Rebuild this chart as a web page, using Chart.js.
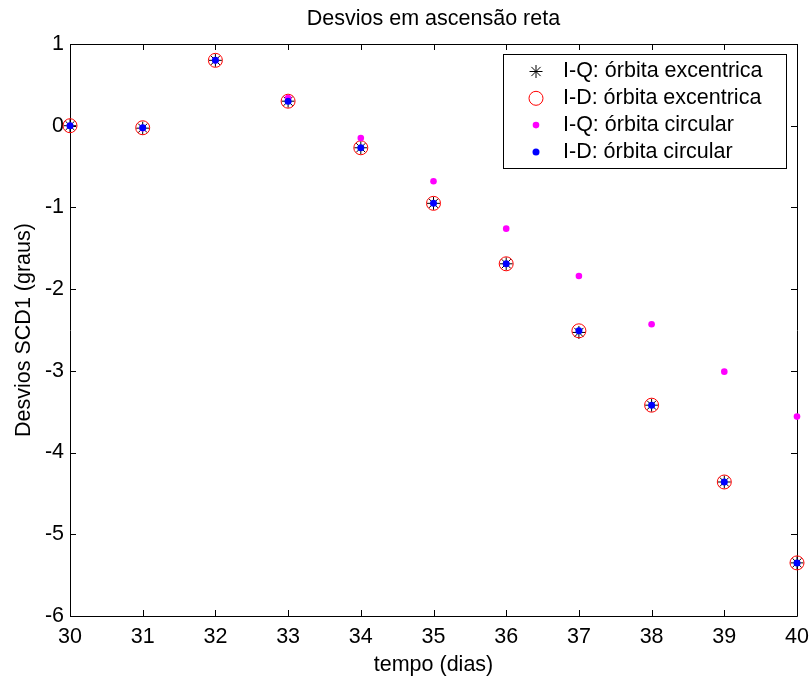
<!DOCTYPE html>
<html>
<head>
<meta charset="utf-8">
<title>Desvios em ascensão reta</title>
<script src="https://cdn.jsdelivr.net/npm/chart.js@4/dist/chart.umd.min.js"></script>
<style>
  html, body { margin: 0; padding: 0; background: #fff; }
  #grafico { display: block; }
</style>
</head>
<body>
<canvas id="grafico" width="811" height="679"></canvas>
<script>
// dias de simulação
const dias = [30, 31, 32, 33, 34, 35, 36, 37, 38, 39, 40];

// desvios SCD1 (graus) por método / órbita
const iqExcentrica = [0, -0.03, 0.8, 0.3, -0.27, -0.95, -1.69, -2.53, -3.42, -4.36, -5.35];
const idExcentrica = [0, -0.025, 0.8, 0.3, -0.27, -0.95, -1.69, -2.51, -3.42, -4.36, -5.35];
const iqCircular = [0, -0.03, 0.8, 0.34, -0.15, -0.68, -1.26, -1.84, -2.43, -3.01, -3.56];
const idCircular = [0, -0.025, 0.8, 0.3, -0.27, -0.95, -1.69, -2.51, -3.42, -4.36, -5.35];

const rotulos = [
  "I-Q: órbita excentrica",
  "I-D: órbita excentrica",
  "I-Q: órbita circular",
  "I-D: órbita circular",
];

const FONTE = "'Liberation Sans', Arial, Helvetica, sans-serif";
const TAM = 21.5;

const pontos = (ys) => dias.map((d, i) => ({ x: d, y: ys[i] }));

// caixa dos eixos + marcas de escala para dentro (estilo MATLAB)
const caixaEixos = {
  id: "caixaEixos",
  beforeDatasetsDraw(chart) {
    const { ctx, chartArea: a, scales } = chart;
    const tl = 6;
    ctx.save();
    ctx.strokeStyle = "#000";
    ctx.lineWidth = 1;
    ctx.beginPath();
    ctx.rect(a.left + 0.5, a.top + 0.5, a.right - a.left, a.bottom - a.top);
    scales.x.ticks.forEach((t) => {
      const px = Math.round(scales.x.getPixelForValue(t.value)) + 0.5;
      ctx.moveTo(px, a.bottom);
      ctx.lineTo(px, a.bottom - tl);
      ctx.moveTo(px, a.top);
      ctx.lineTo(px, a.top + tl);
    });
    scales.y.ticks.forEach((t) => {
      const py = Math.round(scales.y.getPixelForValue(t.value)) + 0.5;
      ctx.moveTo(a.left, py);
      ctx.lineTo(a.left + tl, py);
      ctx.moveTo(a.right, py);
      ctx.lineTo(a.right - tl, py);
    });
    ctx.stroke();
    ctx.restore();
  },
};

// legenda dentro do gráfico, canto superior direito
const legendaCaixa = {
  id: "legendaCaixa",
  afterDatasetsDraw(chart) {
    const { ctx } = chart;
    const x0 = 503, y0 = 54, w = 283, h = 114;
    ctx.save();
    ctx.fillStyle = "#fff";
    ctx.fillRect(x0, y0, w, h);
    ctx.strokeStyle = "#000";
    ctx.lineWidth = 1;
    ctx.strokeRect(x0 + 0.5, y0 + 0.5, w, h);
    ctx.font = TAM + "px " + FONTE;
    ctx.textBaseline = "middle";
    ctx.textAlign = "left";
    chart.data.datasets.forEach((ds, i) => {
      const cy = y0 + 17.5 + i * 26.8;
      const opts = {
        pointStyle: ds.pointStyle,
        radius: ds.pointRadius,
        borderWidth: ds.pointBorderWidth,
        rotation: 0,
      };
      ctx.strokeStyle = ds.pointBorderColor;
      ctx.fillStyle = ds.pointBackgroundColor;
      ctx.lineWidth = ds.pointBorderWidth;
      Chart.helpers.drawPoint(ctx, opts, 536, cy);
      ctx.fillStyle = "#000";
      ctx.fillText(ds.label, 563, cy);
    });
    ctx.restore();
  },
};

const eixoTick = { size: TAM, family: FONTE };

new Chart(document.getElementById("grafico"), {
  type: "scatter",
  data: {
    datasets: [
      {
        label: rotulos[0],
        data: pontos(iqExcentrica),
        pointStyle: "star",
        pointRadius: 6.5,
        pointBorderWidth: 1,
        pointBorderColor: "#000",
        pointBackgroundColor: "#000",
        order: 4,
      },
      {
        label: rotulos[1],
        data: pontos(idExcentrica),
        pointStyle: "circle",
        pointRadius: 7,
        pointBorderWidth: 1,
        pointBorderColor: "#ff0000",
        pointBackgroundColor: "rgba(0,0,0,0)",
        order: 3,
      },
      {
        label: rotulos[2],
        data: pontos(iqCircular),
        pointStyle: "circle",
        pointRadius: 3.3,
        pointBorderWidth: 0,
        pointBorderColor: "#ff00ff",
        pointBackgroundColor: "#ff00ff",
        order: 2,
      },
      {
        label: rotulos[3],
        data: pontos(idCircular),
        pointStyle: "circle",
        pointRadius: 3.5,
        pointBorderWidth: 0,
        pointBorderColor: "#0000ff",
        pointBackgroundColor: "#0000ff",
        order: 1,
      },
    ],
  },
  options: {
    responsive: false,
    animation: false,
    clip: false,
    layout: { padding: 0 },
    plugins: {
      legend: { display: false },
      tooltip: { enabled: false },
      title: { display: false },
    },
    scales: {
      x: {
        type: "linear",
        position: "bottom",
        min: 30,
        max: 40,
        grid: { display: false, drawTicks: false },
        border: { display: false },
        ticks: { stepSize: 1, color: "#000", font: eixoTick, padding: 8 },
        title: {
          display: true,
          text: "tempo (dias)",
          color: "#000",
          font: eixoTick,
          padding: { top: 0, bottom: 1 },
        },
        afterFit: (s) => {
          s.height = 63;
          s.paddingLeft = 0;
          s.paddingRight = 0;
        },
      },
      topo: {
        type: "linear",
        position: "top",
        min: 30,
        max: 40,
        grid: { display: false, drawTicks: false },
        border: { display: false },
        ticks: { display: false },
        title: {
          display: true,
          text: "Desvios em ascensão reta",
          color: "#000",
          font: eixoTick,
          padding: { top: 6.5, bottom: 0 },
        },
        afterFit: (s) => {
          s.height = 44;
          s.paddingLeft = 0;
          s.paddingRight = 0;
        },
      },
      y: {
        type: "linear",
        position: "left",
        min: -6,
        max: 1,
        grid: { display: false, drawTicks: false },
        border: { display: false },
        ticks: { stepSize: 1, color: "#000", font: eixoTick, padding: 6 },
        title: {
          display: true,
          text: "Desvios SCD1 (graus)",
          color: "#000",
          font: eixoTick,
          padding: { top: 11, bottom: 0 },
        },
        afterFit: (s) => { s.width = 70; },
      },
      direita: {
        type: "linear",
        position: "right",
        min: -6,
        max: 1,
        grid: { display: false, drawTicks: false },
        border: { display: false },
        ticks: { display: false },
        afterFit: (s) => { s.width = 14; },
      },
    },
  },
  plugins: [caixaEixos, legendaCaixa],
});
</script>
</body>
</html>
